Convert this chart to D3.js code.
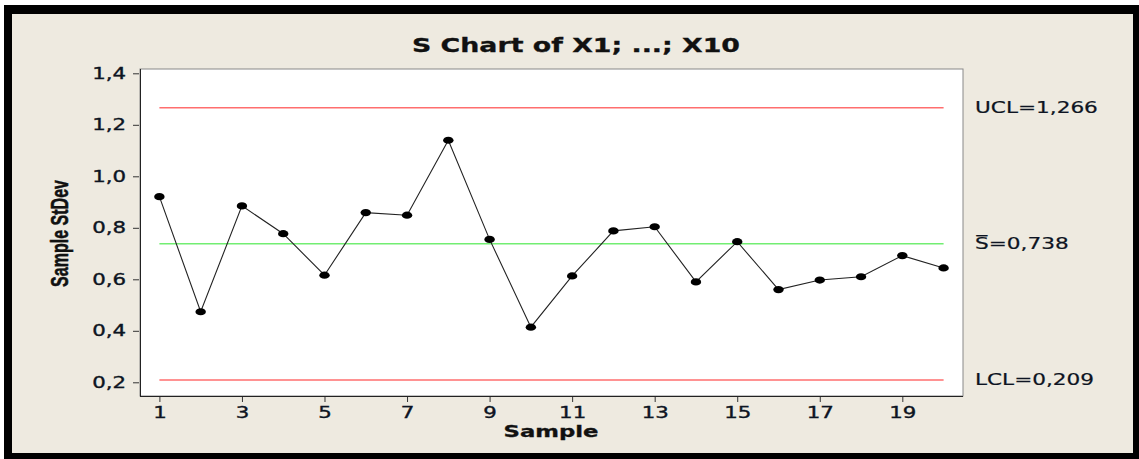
<!DOCTYPE html>
<html><head><meta charset="utf-8">
<script src="https://cdn.jsdelivr.net/npm/d3@7"></script>
<style>html,body{margin:0;padding:0;background:#fff;} svg{display:block}</style>
</head><body>
<svg id="c" width="1139" height="459"></svg>
<script>
// ---- data ----
const samples = [1,2,3,4,5,6,7,8,9,10,11,12,13,14,15,16,17,18,19,20];
const stdev = [0.921,0.474,0.885,0.777,0.616,0.859,0.849,1.140,0.755,0.414,
               0.613,0.788,0.804,0.590,0.746,0.560,0.597,0.610,0.692,0.644];
const UCL = 1.266, CENTER = 0.738, LCL = 0.209;
const xTicks = [1,3,5,7,9,11,13,15,17,19];
const yTicks = [0.2,0.4,0.6,0.8,1.0,1.2,1.4];
const title = "S Chart of X1; ...; X10";
const xLabel = "Sample";
const yLabel = "Sample StDev";
const limitLabels = ["UCL=1,266", "S\u0305=0,738", "LCL=0,209"];

// ---- setup ----
const svg = d3.select("#c");
const plot = {left:140, right:963, top:69, bottom:396};
const loc = d3.formatLocale({decimal:",", thousands:".", grouping:[3], currency:["",""]});
const fmt1 = loc.format(".1f");
const STRETCH = 1.42;
const font = "'DejaVu Sans', Verdana, sans-serif";
const ink = "#0d1422";

function stretch(sel, k){
  sel.each(function(){
    const len = this.getComputedTextLength();
    d3.select(this).attr("textLength", len*k).attr("lengthAdjust","spacingAndGlyphs");
  });
}

// frame
svg.append("rect").attr("x",4).attr("y",5).attr("width",1135).attr("height",454).attr("fill","#000");
svg.append("rect").attr("x",12).attr("y",14).attr("width",1121).attr("height",439).attr("fill","#EEEAE0");

const x = d3.scaleLinear().domain([0.53, 20.47]).range([plot.left, plot.right]);
const y = d3.scaleLinear().domain([0.1468, 1.4167]).range([plot.bottom, plot.top]);

// plot area
svg.append("rect").attr("x",plot.left).attr("y",plot.top)
  .attr("width",plot.right-plot.left).attr("height",plot.bottom-plot.top)
  .attr("fill","#fff").attr("stroke","#888").attr("stroke-width",1);

// axes
const yAxis = svg.append("g").attr("transform",`translate(${plot.left},0)`)
  .call(d3.axisLeft(y).tickValues(yTicks).tickFormat(fmt1).tickSize(7).tickPadding(7));
const xAxis = svg.append("g").attr("transform",`translate(0,${plot.bottom})`)
  .call(d3.axisBottom(x).tickValues(xTicks).tickFormat(d3.format("d")).tickSize(6).tickPadding(5));
[yAxis,xAxis].forEach(g=>{
  g.select(".domain").remove();
  g.selectAll(".tick line").attr("stroke","#333");
  g.selectAll(".tick text").attr("font-family",font).attr("font-size",15)
    .attr("fill",ink).attr("stroke",ink).attr("stroke-width",0.35);
});
svg.append("line").attr("x1",plot.left+0.5).attr("x2",plot.left+0.5).attr("y1",plot.top).attr("y2",plot.bottom+0.5).attr("stroke","#222");
svg.append("line").attr("x1",plot.left).attr("x2",plot.right).attr("y1",plot.bottom+0.5).attr("y2",plot.bottom+0.5).attr("stroke","#222");
yAxis.selectAll(".tick line").attr("x1",-1);
stretch(yAxis.selectAll(".tick text"), STRETCH);
stretch(xAxis.selectAll(".tick text"), STRETCH);

// control lines
const limits = [{v:UCL,c:"#FF6E6E"},{v:CENTER,c:"#72EE72"},{v:LCL,c:"#FF6E6E"}];
svg.selectAll(".lim").data(limits).join("line")
  .attr("x1",x(samples[0])).attr("x2",x(samples[samples.length-1]))
  .attr("y1",d=>y(d.v)).attr("y2",d=>y(d.v))
  .attr("stroke",d=>d.c).attr("stroke-width",1.6);

// data line
const pts = samples.map((s,i)=>({s, v:stdev[i]}));
svg.append("path").datum(pts)
  .attr("d", d3.line().x(d=>x(d.s)).y(d=>y(d.v)))
  .attr("fill","none").attr("stroke","#222").attr("stroke-width",1.1);
svg.selectAll(".pt").data(pts).join("ellipse")
  .attr("cx",d=>x(d.s)).attr("cy",d=>y(d.v)).attr("rx",5.2).attr("ry",3.6).attr("fill","#000");

// limit labels
const lt = svg.selectAll(".lt").data(limits).join("text")
  .attr("x",975).attr("y",d=>y(d.v)+5.5)
  .attr("font-family",font).attr("font-size",15)
  .attr("fill",ink).attr("stroke",ink).attr("stroke-width",0.2)
  .text((d,i)=>limitLabels[i]);
stretch(lt, 1.44);

// title
svg.append("text").attr("x",576).attr("y",52).attr("text-anchor","middle")
  .attr("font-family",font).attr("font-weight","bold").attr("font-size",19)
  .attr("fill","#111").attr("stroke","#111").attr("stroke-width",0.3)
  .attr("textLength",328).attr("lengthAdjust","spacingAndGlyphs")
  .text(title);

// x label
svg.append("text").attr("x",551).attr("y",437).attr("text-anchor","middle")
  .attr("font-family",font).attr("font-weight","bold").attr("font-size",15.5)
  .attr("fill","#111").attr("stroke","#111").attr("stroke-width",0.3)
  .attr("textLength",95).attr("lengthAdjust","spacingAndGlyphs")
  .text(xLabel);

// y label (rotated)
svg.append("text").attr("transform","translate(68,233.5) scale(1.4,1) rotate(-90)")
  .attr("text-anchor","middle")
  .attr("font-family","'Liberation Sans', Arial, sans-serif").attr("font-weight","bold").attr("font-size",17.5)
  .attr("fill","#111").attr("stroke","#111").attr("stroke-width",0.4)
  .attr("textLength",107).attr("lengthAdjust","spacingAndGlyphs")
  .text(yLabel);
</script>
</body></html>
